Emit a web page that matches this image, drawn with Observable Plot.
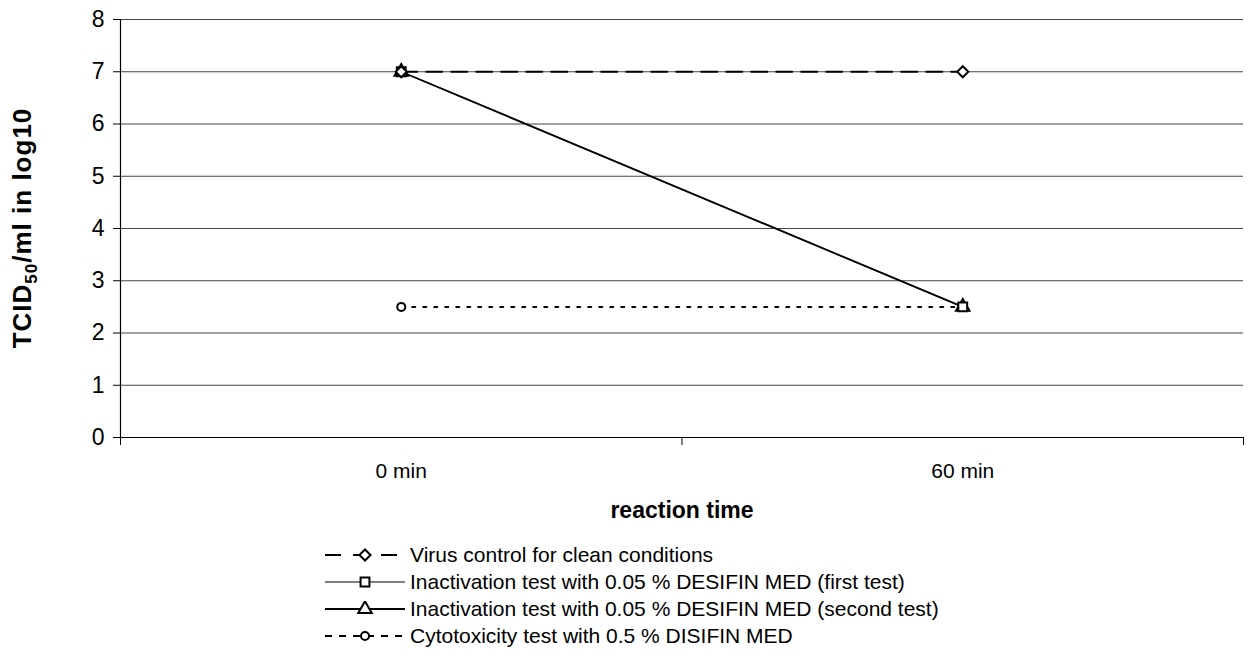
<!DOCTYPE html>
<html>
<head>
<meta charset="utf-8">
<script src="https://cdn.jsdelivr.net/npm/d3@7"></script>
<script src="https://cdn.jsdelivr.net/npm/@observablehq/plot@0.6"></script>
<style>
  html, body { margin: 0; padding: 0; background: #fff; }
  body { width: 1251px; height: 659px; position: relative; overflow: hidden; font-family: Arial, "Liberation Sans", sans-serif; }
  #chart { position: absolute; left: 0; top: 0; }
  #legend { position: absolute; left: 325px; top: 541px; font-size: 21px; color: #000; }
  .row { display: flex; align-items: center; height: 27px; }
  .row svg { margin-right: 5px; }
</style>
</head>
<body>
<div id="chart"></div>
<div id="legend"></div>
<script>
// ---- data ----
const times = ["0 min", "60 min"];
const seriesNames = [
  "Virus control for clean conditions",
  "Inactivation test with 0.05 % DESIFIN MED (first test)",
  "Inactivation test with 0.05 % DESIFIN MED (second test)",
  "Cytotoxicity test with 0.5 % DISIFIN MED"
];
const virusControl = [7, 7];
const firstTest = [7, 2.5];
const secondTest = [7, 2.5];
const cytotoxicity = [2.5, 2.5];
const yTicks = [0, 1, 2, 3, 4, 5, 6, 7, 8];
const xLabel = "reaction time";

// ---- styles ----
const styles = [
  {symbol: "diamond2", dash: "16,9", width: 2, color: "#000", r: 5},
  {symbol: "square", dash: null, width: 1.3, color: "#555", r: 5},
  {symbol: "triangle", dash: null, width: 1.8, color: "#000", r: 5},
  {symbol: "circle", dash: "3,8", width: 2, color: "#000", r: 4}
];
const values = [virusControl, firstTest, secondTest, cytotoxicity];

const rows = [];
values.forEach((vals, s) => vals.forEach((v, i) => rows.push({series: seriesNames[s], s, time: times[i], xi: i + 0.5, value: v})));

const font = "Arial, 'Liberation Sans', sans-serif";

const lineMarks = seriesNames.map((name, s) =>
  Plot.line(rows.filter(d => d.s === s), {
    x: "xi", y: "value",
    stroke: styles[s].color, strokeWidth: styles[s].width,
    strokeDasharray: styles[s].dash
  })
);
const dotMarks = seriesNames.map((name, s) =>
  Plot.dot(rows.filter(d => d.s === s), {
    x: "xi", y: "value", symbol: () => styles[s].symbol,
    r: styles[s].r, stroke: "#000", strokeWidth: 2, fill: "#fff"
  })
);

const chart = Plot.plot({
  width: 1251,
  height: 530,
  marginLeft: 120,
  marginRight: 8,
  marginTop: 19,
  marginBottom: 93,
  style: {fontFamily: font, background: "#fff", color: "#000"},
  x: {type: "linear", domain: [0, times.length], axis: null},
  y: {domain: [0, 8], axis: null},
  symbol: {type: "identity"},
  marks: [
    Plot.gridY(yTicks.filter(t => t > 0), {stroke: "#444", strokeOpacity: 1, strokeWidth: 1.2, x1: 0, x2: times.length}),
    // y axis
    Plot.axisY(yTicks, {tickSize: 7, tickPadding: 9, fontSize: 23, tickFormat: "d", label: null, stroke: "#000"}),
    Plot.ruleX([0], {stroke: "#000", strokeWidth: 1.2}),
    // x axis
    Plot.ruleY([0], {stroke: "#000", strokeWidth: 1.2}),
    Plot.axisX(d3.range(times.length + 1), {tickSize: 8, tickFormat: () => "", label: null, stroke: "#000"}),
    Plot.axisX(times.map((t, i) => i + 0.5), {tickSize: 0, tickPadding: 26, fontSize: 21, tickFormat: (d, i) => times[i], label: null}),
    Plot.text([xLabel], {frameAnchor: "bottom", dy: 80, text: d => d, fontSize: 23, fontWeight: "bold"}),
    ...lineMarks,
    ...dotMarks.slice().reverse()
  ]
});
document.getElementById("chart").appendChild(chart);

// Y-axis label with subscript
const svg = d3.select(chart);
const yl = svg.append("text")
  .attr("transform", `translate(31, ${19 + (437 - 19) / 2}) rotate(-90)`)
  .attr("text-anchor", "middle")
  .attr("font-family", font)
  .attr("font-size", 26)
  .attr("font-weight", "bold")
  .attr("letter-spacing", 1)
  .attr("fill", "#000");
yl.append("tspan").text("TCID");
yl.append("tspan").attr("font-size", 17).attr("dy", 6).text("50");
yl.append("tspan").attr("dy", -6).text("/ml in log10");

// ---- legend ----
const legend = d3.select("#legend");
seriesNames.forEach((name, s) => {
  const row = legend.append("div").attr("class", "row");
  const sw = row.append("svg").attr("width", 80).attr("height", 16);
  sw.append("line").attr("x1", 0).attr("x2", 80).attr("y1", 8).attr("y2", 8)
    .attr("stroke", styles[s].color).attr("stroke-width", styles[s].width)
    .attr("stroke-dasharray", s === 0 ? "16,12" : (s === 3 ? "7,7" : null));
  const sym = d3.symbol().type({
    diamond2: d3.symbolDiamond2, square: d3.symbolSquare, triangle: d3.symbolTriangle, circle: d3.symbolCircle
  }[styles[s].symbol]).size(Math.PI * styles[s].r * styles[s].r);
  sw.append("path").attr("d", sym()).attr("transform", "translate(40,8)")
    .attr("fill", "#fff").attr("stroke", "#000").attr("stroke-width", 2);
  row.append("span").text(name);
});
</script>
</body>
</html>
